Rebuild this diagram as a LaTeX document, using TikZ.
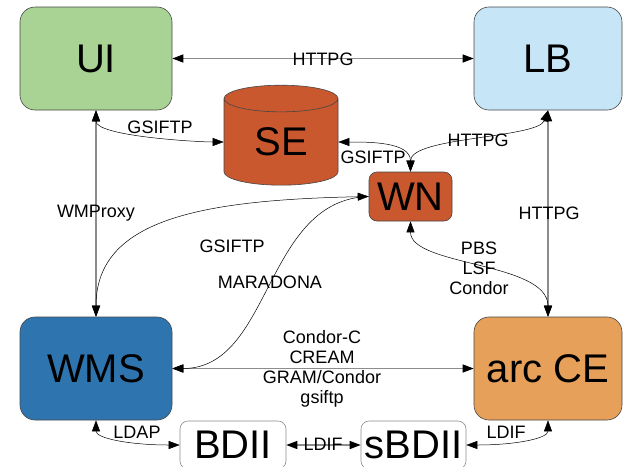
\documentclass[tikz,border=0pt]{standalone}
\usepackage{fontspec}
\setmainfont{Liberation Sans}
\usetikzlibrary{shapes.geometric,arrows.meta}
\definecolor{ui_green}{RGB}{168, 211, 148}
\definecolor{lb_blue}{RGB}{198, 230, 248}
\definecolor{wn_red}{RGB}{201, 88, 47}
\definecolor{wms_blue}{RGB}{46, 117, 176}
\definecolor{ce_orange}{RGB}{230, 160, 90}
\definecolor{edge_gray}{RGB}{140, 140, 140}
\definecolor{border_gray}{RGB}{70, 70, 70}
\tikzstyle{box}=[rectangle,rounded corners=15pt,draw=border_gray,
  line width=0.6pt,inner sep=0pt,minimum width=152pt,minimum height=103pt,
  font=\fontsize{40}{44}\selectfont]
\tikzstyle{smallbox}=[rectangle,rounded corners=8pt,draw=border_gray,
  line width=0.6pt,inner sep=0pt,minimum height=48pt,font=\fontsize{40}{44}\selectfont]
\tikzstyle{db}=[cylinder,shape border rotate=90,aspect=0.5,draw=border_gray,fill=wn_red,
  line width=0.6pt,inner sep=0pt,minimum width=114pt,minimum height=100pt,
  font=\fontsize{40}{44}\selectfont]
\tikzstyle{lbl}=[inner sep=0pt,align=center,font=\fontsize{18}{20}\selectfont]
\tikzstyle{link}=[draw=edge_gray,line width=1.3pt]
\tikzstyle{curveline}=[draw=black,line width=0.5pt]

\begin{document}
\begin{tikzpicture}[x=1pt,y=-1pt,>={Triangle[length=11pt,width=8pt,color=black]}]
        \useasboundingbox (0,0) rectangle (623,466);
        \node [style=box,fill=ui_green] (ui) at (96,58.5) {UI};
        \node [style=box,fill=lb_blue,minimum width=148pt] (lb) at (548,58.5) {LB};
        \node [style=box,fill=wms_blue] (wms) at (96,368.5) {WMS};
        \node [style=box,fill=ce_orange,minimum width=148pt] (ce) at (548,368.5) {arc CE};
        \node [style=db] (se) at (281,142) {SE};
        \node [style=smallbox,fill=wn_red,minimum width=83pt,minimum height=49pt] (wn) at (410.5,196.5) {WN};
        \node [style=smallbox,fill=white,draw=edge_gray,minimum width=106pt] (bdii) at (233,445) {BDII};
        \node [style=smallbox,fill=white,draw=edge_gray,minimum width=105pt] (sbdii) at (413.5,445) {sBDII};
        \draw [link,<->] (ui) -- (lb);
        \draw [link,<->] (ui) -- (wms);
        \draw [link,<->] (lb) -- (ce);
        \draw [link,<->] (wms) -- (ce);
        \draw [link,<->] (bdii) -- (sbdii);
        \draw [curveline,<->] (ui.south) .. controls +(0,26) and +(-26,0) .. (se.west);
        \draw [curveline,<->] (se.east) .. controls +(30,0) and +(0,-30) .. (wn.north);
        \draw [curveline,<->] (lb.south) .. controls +(-10,28) and +(0,-35) .. (wn.north);
        \draw [curveline,<->] (wn.south) .. controls +(0,45) and +(0,-55) .. (ce.north);
        \draw [curveline,<->] (wms.north) .. controls +(0,-97) and +(-169,3.5) .. (wn.west);
        \draw [curveline,->] (wn.west) .. controls +(-105,3) and +(100,0) .. (wms.east);
        \draw [curveline,<->] (wms.south) .. controls +(0,18) and +(-50,0) .. (bdii.west);
        \draw [curveline,<->] (ce.south) .. controls +(0,18) and +(50,0) .. (sbdii.east);
        \node [style=lbl] (httpg_top) at (323,59) {HTTPG};
        \node [style=lbl] (gsiftp_se) at (160,127) {GSIFTP};
        \node [style=lbl] (gsiftp_wn) at (373,157) {GSIFTP};
        \node [style=lbl] (httpg_wn) at (478,140) {HTTPG};
        \node [style=lbl] (wmproxy) at (96,213) {WMProxy};
        \node [style=lbl] (httpg_ce) at (549,213) {HTTPG};
        \node [style=lbl] (gsiftp_wms) at (232,246) {GSIFTP};
        \node [style=lbl] (maradona) at (270,282) {MARADONA};
        \node [style=lbl] (batch) at (479,268) {PBS\\LSF\\Condor};
        \node [style=lbl] (submit) at (322,368.5) {Condor-C\\CREAM\\GRAM/Condor\\gsiftp};
        \node [style=lbl] (ldap) at (137,432) {LDAP};
        \node [style=lbl] (ldif_mid) at (323,444) {LDIF};
        \node [style=lbl] (ldif_ce) at (506,432) {LDIF};
    \end{tikzpicture}
\end{document}
